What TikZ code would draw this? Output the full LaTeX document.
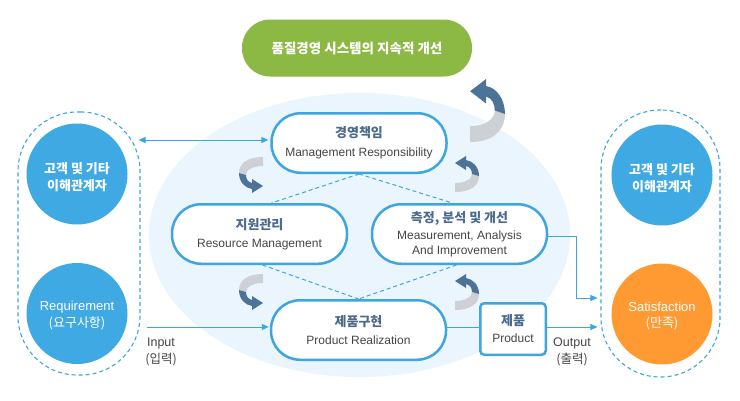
\documentclass[tikz,border=0pt]{standalone}
\usepackage{fontspec}
\setmainfont{Liberation Sans}
\newfontfamily\kr{Noto Sans CJK KR}
\usetikzlibrary{arrows.meta,shapes.geometric}
\AtBeginDocument{\lineskiplimit=-30pt\relax}
\definecolor{lblue}{HTML}{3DA5E0}
\definecolor{cfill}{HTML}{3FA9E4}
\definecolor{ellc}{HTML}{EAF5FD}
\definecolor{grn}{HTML}{8CB844}
\definecolor{orgc}{HTML}{FF9A33}
\definecolor{rgray}{HTML}{CDD1D6}
\definecolor{rblue}{HTML}{4E7398}
\definecolor{ttlc}{HTML}{4B6A8E}
\definecolor{txtc}{HTML}{454545}
\newcommand\krT{\kr\bfseries\fontsize{13}{15}\selectfont\color{ttlc}}
\newcommand\enT{\fontsize{12}{15}\selectfont\color{txtc}}
\tikzset{
  pill/.style={draw=lblue, line width=2.5pt, fill=white, rounded corners=29pt,
    minimum width=175pt, minimum height=59.5pt, align=center, inner sep=0pt,
    font=\fontsize{12}{15}\selectfont},
  grp/.style={draw=lblue, line width=1.1pt, dash pattern=on 4pt off 3pt, rounded corners=59pt, inner sep=0pt},
  circ/.style={circle, minimum size=101pt, inner sep=0pt},
  ctext/.style={align=center, text=white, inner sep=0pt,
    font=\fontsize{13}{16.5}\selectfont},
  conn/.style={draw=lblue, line width=1pt},
  tip/.style={-{Triangle[length=7pt,width=6pt]}},
  diag/.style={draw=lblue, line width=1pt, dash pattern=on 4pt off 3pt},
  lbl/.style={align=center, inner sep=0pt, text=txtc, font=\fontsize{12.5}{17.5}\selectfont},
  ribbon/.pic={
    \fill[rgray] (12,-18) .. controls (-3,-18) and (-12,-12) .. (-12,-2) -- (-5,0)
       .. controls (-5,-5) and (2,-9) .. (12,-9) -- cycle;
    \fill[rblue] (-12,-2) .. controls (-12,7) and (-6,13) .. (1,14) -- (1,18) -- (12,11)
       -- (1,4) -- (1,8) .. controls (-3,7) and (-5,4) .. (-5,0) -- cycle;
  }
}
\begin{document}
\begin{tikzpicture}[x=1pt,y=-1pt]
\useasboundingbox (0,0) rectangle (740,400);
\fill[white] (0,0) rectangle (740,400);
% background ellipse
\node[ellipse, fill=ellc, minimum width=421pt, minimum height=284pt, inner sep=0pt] (bg) at (359.5,235) {};
% title
\node[fill=grn, rounded corners=28pt, minimum width=230pt, minimum height=57pt, text=white, inner sep=0pt] (ttl) at (357,48)
  {\kr\bfseries\fontsize{13.5}{15}\selectfont 품질경영 시스템의 지속적 개선};
% groups
\node[grp, minimum width=122pt, minimum height=263pt] (lgrp) at (79,243.5) {};
\node[grp, minimum width=119pt, minimum height=267pt] (rgrp) at (660.5,243.5) {};
% circles
\node[circ, fill=cfill] (c1) at (77,174) {};
\node[circ, fill=cfill] (c2) at (77,313.5) {};
\node[circ, fill=cfill] (c3) at (662,175) {};
\node[circ, fill=orgc] (c4) at (662,314) {};
\node[ctext] (c1t) at ([yshift=-3pt]c1.center) {\kr\bfseries 고객 및 기타\\\kr\bfseries 이해관계자};
\node[ctext] (c2t) at ([yshift=-2pt]c2.center) {Requirement\\\kr (요구사항)};
\node[ctext] (c3t) at ([yshift=-3pt]c3.center) {\kr\bfseries 고객 및 기타\\\kr\bfseries 이해관계자};
\node[ctext] (c4t) at ([yshift=-2pt]c4.center) {Satisfaction\\\kr (만족)};
% pills
\node[pill] (mr) at (359,143) {\krT 경영책임\\[4pt]\enT Management Responsibility};
\node[pill] (rm) at (259.5,234) {\krT 지원관리\\[3pt]\enT Resource Management};
\node[pill] (ms) at (459.5,234) {\krT 측정, 분석 및 개선\\[2.5pt]\enT Measurement, Analysis\\[-0.5pt]\enT And Improvement};
\node[pill] (pr) at (358.5,330) {\krT 제품구현\\[3pt]\enT Product Realization};
\node[draw=lblue, line width=2.5pt, fill=white, rounded corners=4pt, minimum width=65.5pt, minimum height=51.5pt, align=center, inner sep=0pt, font=\fontsize{12}{15}\selectfont] (prod) at (513,329)
  {\krT 제품\\[2pt]\enT Product};
% dashed diamond
\draw[diag] (mr.south) -- ([xshift=12pt]rm.north);
\draw[diag] (mr.south) -- ([xshift=-7pt]ms.north);
\draw[diag] ([xshift=3pt]rm.south) -- (pr.north);
\draw[diag] ([xshift=-3pt]ms.south) -- (pr.north);
% connectors
\coordinate (a1) at ([yshift=3pt]mr.west);
\draw[conn, {Triangle[length=7pt,width=6pt]}-{Triangle[length=7pt,width=6pt]}] ([xshift=-2pt]lgrp.east |- a1) -- ([xshift=-2pt]a1);
\coordinate (in1) at ([yshift=3pt]pr.west);
\draw[conn, tip] ([xshift=6pt]lgrp.east |- in1) -- ([xshift=-1pt]in1);
\draw[conn] (in1 -| pr.east) -- (in1 -| prod.west);
\draw[conn, tip] (in1 -| prod.east) -- ([xshift=-3pt]in1 -| rgrp.west);
\coordinate (m1) at (576,298);
\draw[conn, tip] ([yshift=-2pt]ms.east) -| (m1) -- ([xshift=-3pt]m1 -| rgrp.west);
% labels
\node[lbl] (inl) at (161,352) {Input\\\kr (입력)};
\node[lbl] (outl) at (572,352) {Output\\\kr (출력)};
% ribbons
\pic at (251,175) {ribbon};
\pic at (251,292) {ribbon};
\pic[xscale=-1,yscale=-1] at (467,174) {ribbon};
\pic[xscale=-1,yscale=-1] at (467,292) {ribbon};
\pic[xscale=-1.45,yscale=-1.75] at (487.5,110.5) {ribbon};
\end{tikzpicture}
\end{document}
